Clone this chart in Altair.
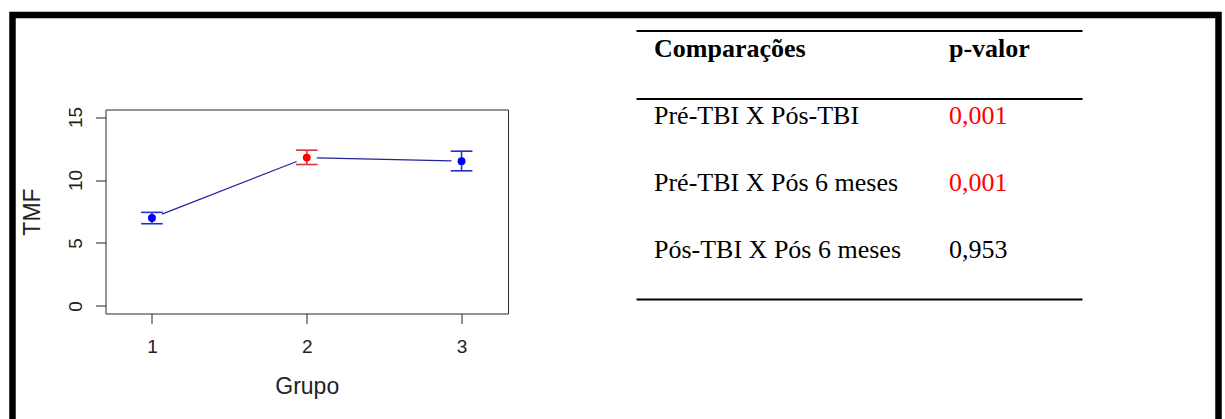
import altair as alt
import pandas as pd

# ---- data -----------------------------------------------------------------
grupo = [1, 2, 3]
media = [6.98, 11.78, 11.50]
inferior = [6.53, 11.23, 10.73]
superior = [7.43, 12.37, 12.29]

comparacoes = ["Pré-TBI X Pós-TBI", "Pré-TBI X Pós 6 meses", "Pós-TBI X Pós 6 meses"]
p_valores = [0.001, 0.001, 0.953]
cabecalho = ["Comparações", "p-valor"]

x_ticks = [1, 2, 3]
y_ticks = [0, 5, 10, 15]

# ---- layout constants -------------------------------------------------------
W, H = 1225, 419
LEFT, TOP = 105.5, 109.5          # plot-area origin on the page
PW, PH = 402.5, 204               # plot-area size
CAP = 0.07                        # half width of the error-bar caps (x units)
GAP = 0.065                       # gap left around each point by the joining line

BLUE, RED = "#0000ff", "#ff0000"
BAR_BLUE, BAR_RED = "#2233cc", "#d03a3a"
SANS, SERIF = "Liberation Sans", "Liberation Serif"
TICK_FS = 19

df = pd.DataFrame({"grupo": grupo, "media": media, "inf": inferior, "sup": superior})

# joining segments between consecutive means, shortened at both ends
seg = []
for i in range(len(grupo) - 1):
    x0, x1, y0, y1 = grupo[i], grupo[i + 1], media[i], media[i + 1]
    s = (y1 - y0) / (x1 - x0)
    seg.append({"x": x0 + GAP, "y": y0 + s * GAP, "x2": x1 - GAP, "y2": y1 - s * GAP})
seg = pd.DataFrame(seg)

xs = alt.Scale(domain=[0.7, 3.3], nice=False, zero=False)
ys = alt.Scale(domain=[-0.6, 15.6], nice=False, zero=False)

ax_x = alt.Axis(
    values=x_ticks, title="Grupo", grid=False, domain=False,
    tickSize=10, tickColor="#222", tickWidth=1,
    labelFont=SANS, labelFontSize=TICK_FS, labelColor="#222",
    labelBaseline="alphabetic", labelPadding=28.5, labelFlush=False,
    titleFont=SANS, titleFontSize=23, titleFontWeight="normal", titleColor="#222",
    titleX=PW / 2, titleY=79.5, titleAlign="center", titleBaseline="alphabetic",
)
ax_y = alt.Axis(
    values=y_ticks, title="TMF", grid=False, domain=False,
    tickSize=10, tickColor="#222", tickWidth=1,
    labelFont=SANS, labelFontSize=TICK_FS, labelColor="#222",
    labelAngle=270, labelAlign="center", labelBaseline="alphabetic",
    labelPadding=14, labelFlush=False,
    titleFont=SANS, titleFontSize=23, titleFontWeight="normal", titleColor="#222",
    titleAngle=270, titleX=-66, titleY=PH / 2, titleAlign="center",
    titleBaseline="alphabetic",
)

destaque = "datum.grupo == 2"

linhas = alt.Chart(seg).mark_rule(color="#22229a", strokeWidth=1.1).encode(
    x=alt.X("x:Q", scale=xs, axis=ax_x),
    y=alt.Y("y:Q", scale=ys, axis=ax_y),
    x2="x2:Q", y2="y2:Q",
)

barras = alt.Chart(df).mark_rule(strokeWidth=1.6).encode(
    x=alt.X("grupo:Q", scale=xs, axis=ax_x),
    y=alt.Y("inf:Q", scale=ys, axis=ax_y),
    y2="sup:Q",
    color=alt.condition(destaque, alt.value(BAR_RED), alt.value(BAR_BLUE)),
)

tampas = alt.Chart(df).transform_fold(["inf", "sup"], as_=["lim", "valor"]).transform_calculate(
    xl=f"datum.grupo - {CAP}", xr=f"datum.grupo + {CAP}"
).mark_rule(strokeWidth=1.6).encode(
    x=alt.X("xl:Q", scale=xs, axis=ax_x),
    x2="xr:Q",
    y=alt.Y("valor:Q", scale=ys, axis=ax_y),
    color=alt.condition(destaque, alt.value(BAR_RED), alt.value(BAR_BLUE)),
)

pontos = alt.Chart(df).mark_circle(size=62, opacity=1).encode(
    x=alt.X("grupo:Q", scale=xs, axis=ax_x),
    y=alt.Y("media:Q", scale=ys, axis=ax_y),
    color=alt.condition(destaque, alt.value(RED), alt.value(BLUE)),
)

grafico = alt.layer(linhas, barras, tampas, pontos)

# ---- comparison table --------------------------------------------------------
# column 0/1 and row 0 (header) .. 3 are placed through their own scales
tx = alt.Scale(domain=[0, 1], range=[654 - LEFT, 949 - LEFT])
ty = alt.Scale(domain=[0, 3], range=[56.5 - TOP, 258 - TOP])

cab = pd.DataFrame({"col": [0, 1], "row": [0, 0], "txt": cabecalho})
corpo = pd.DataFrame(
    {
        "col": [0] * len(comparacoes) + [1] * len(p_valores),
        "row": list(range(1, len(comparacoes) + 1)) * 2,
        "p": p_valores + p_valores,
        "txt": comparacoes + [f"{p:.3f}".replace(".", ",") for p in p_valores],
    }
)

texto_cab = alt.Chart(cab).mark_text(
    font=SERIF, fontSize=26, fontWeight="bold", align="left", baseline="alphabetic", color="#000"
).encode(
    x=alt.X("col:Q", scale=tx, axis=None),
    y=alt.Y("row:Q", scale=ty, axis=None),
    text="txt:N",
)

texto_corpo = alt.Chart(corpo).mark_text(
    font=SERIF, fontSize=26, align="left", baseline="alphabetic"
).encode(
    x=alt.X("col:Q", scale=tx, axis=None),
    y=alt.Y("row:Q", scale=ty, axis=None),
    text="txt:N",
    color=alt.condition("datum.col == 1 && datum.p < 0.05", alt.value(RED), alt.value("#000")),
)

um = pd.DataFrame({"k": [0]})


def regra(y_pag):
    return alt.Chart(um).mark_rule(color="#000", strokeWidth=2).encode(
        x=alt.value(636.5 - LEFT), x2=alt.value(1082.5 - LEFT), y=alt.value(y_pag - TOP)
    )


tabela = alt.layer(regra(31), regra(99), regra(299.5), texto_cab, texto_corpo)

# ---- outer frame -------------------------------------------------------------
moldura = alt.Chart(um).mark_rect(fill="transparent", stroke="#000", strokeWidth=6.5).encode(
    x=alt.value(12.5 - LEFT), x2=alt.value(1218.5 - LEFT),
    y=alt.value(15 - TOP), y2=alt.value(H + 20 - TOP),
)

chart = (
    alt.layer(grafico, tabela, moldura)
    .resolve_scale(x="independent", y="independent")
    .properties(
        width=PW, height=PH,
        autosize=alt.AutoSizeParams(type="none"),
        padding={"left": LEFT, "top": TOP, "right": W - LEFT - PW, "bottom": H - TOP - PH},
        background="white",
    )
    .configure_view(stroke="#2b2b2b", strokeWidth=1)
)

chart.save("out.html", embed_options={"renderer": "svg", "actions": False})
